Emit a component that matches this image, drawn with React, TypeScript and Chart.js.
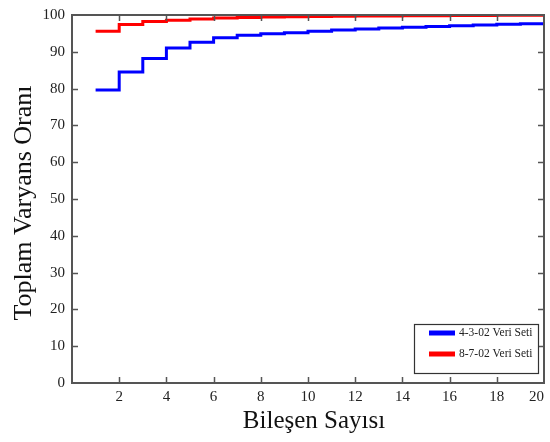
import React, { useEffect, useRef } from "react";
import { Chart, registerables } from "chart.js";

Chart.register(...registerables);

// ---- data ----
const components = [1, 2, 3, 4, 5, 6, 7, 8, 9, 10, 11, 12, 13, 14, 15, 16, 17, 18, 19, 20];
const set4302 = [79.6, 84.5, 88.2, 91.0, 92.6, 93.8, 94.5, 94.9, 95.2, 95.6, 95.9, 96.2, 96.5, 96.7, 96.9, 97.1, 97.3, 97.5, 97.6, 97.6];
const set8702 = [95.6, 97.4, 98.2, 98.6, 98.9, 99.2, 99.35, 99.45, 99.5, 99.6, 99.65, 99.7, 99.75, 99.8, 99.8, 99.85, 99.85, 99.9, 99.9, 99.95];
const seriesLabels = ["4-3-02 Veri Seti", "8-7-02 Veri Seti"];
const seriesColors = ["#0000ff", "#ff0000"];
const xTitle = "Bileşen Sayısı";
const yTitle = "Toplam Varyans Oranı";

const SERIF = "'Liberation Serif', 'Times New Roman', serif";

const framePlugin = {
  id: "frame",
  afterDatasetsDraw(chart: any) {
    const { ctx, chartArea, scales } = chart;
    const { left, right, top, bottom } = chartArea;
    const x = scales.x;
    const y = scales.y;
    ctx.save();
    ctx.strokeStyle = "#555555";
    ctx.lineWidth = 1.5;
    ctx.beginPath();
    const tl = 6;
    x.ticks.forEach((t: any) => {
      if (t.value <= x.min || t.value >= x.max) return;
      const px = Math.round(x.getPixelForValue(t.value)) + 0.5;
      ctx.moveTo(px, bottom);
      ctx.lineTo(px, bottom - tl);
      ctx.moveTo(px, top);
      ctx.lineTo(px, top + tl);
    });
    y.ticks.forEach((t: any) => {
      if (t.value <= y.min || t.value >= y.max) return;
      const py = Math.round(y.getPixelForValue(t.value)) + 0.5;
      ctx.moveTo(left, py);
      ctx.lineTo(left + tl, py);
      ctx.moveTo(right, py);
      ctx.lineTo(right - tl, py);
    });
    ctx.stroke();
    ctx.lineWidth = 2;
    ctx.strokeRect(left, top, right - left, bottom - top);
    ctx.restore();
  },
  afterDraw(chart: any) {
    const { ctx, chartArea } = chart;
    const { right, bottom } = chartArea;
    ctx.save();
    // axis titles
    ctx.fillStyle = "#111111";
    ctx.textAlign = "center";
    ctx.textBaseline = "middle";
    ctx.font = `25px ${SERIF}`;
    ctx.fillText(xTitle, 314, 421);
    ctx.font = `26px ${SERIF}`;
    ctx.translate(24, 203);
    ctx.rotate(-Math.PI / 2);
    ctx.fillText(yTitle, 0, 0);
    ctx.restore();

    // legend
    ctx.save();
    const bx = right - 130;
    const by = bottom - 59;
    const bw = 124;
    const bh = 49;
    ctx.fillStyle = "#ffffff";
    ctx.fillRect(bx, by, bw, bh);
    ctx.strokeStyle = "#333333";
    ctx.lineWidth = 1.2;
    ctx.strokeRect(bx + 0.5, by + 0.5, bw, bh);
    chart.data.datasets.forEach((ds: any, i: number) => {
      const cy = by + 9 + i * 21;
      ctx.strokeStyle = ds.borderColor;
      ctx.lineWidth = 5;
      ctx.beginPath();
      ctx.moveTo(bx + 15, cy);
      ctx.lineTo(bx + 41, cy);
      ctx.stroke();
      ctx.fillStyle = "#222222";
      ctx.font = `11.5px ${SERIF}`;
      ctx.textAlign = "left";
      ctx.textBaseline = "middle";
      ctx.fillText(ds.label, bx + 45, cy);
    });
    ctx.restore();
  },
};

export default function App() {
  const ref = useRef<HTMLCanvasElement | null>(null);

  useEffect(() => {
    if (!ref.current) return;
    const datasets = [set4302, set8702].map((vals, i) => ({
      label: seriesLabels[i],
      data: components.map((c, j) => ({ x: c, y: vals[j] })),
      borderColor: seriesColors[i],
      backgroundColor: seriesColors[i],
      borderWidth: 3,
      pointRadius: 0,
      stepped: "before" as const,
      fill: false,
    }));
    const chart = new Chart(ref.current, {
      type: "line",
      data: { datasets },
      options: {
        animation: false,
        responsive: false,
        maintainAspectRatio: false,
        devicePixelRatio: 1,
        layout: { padding: { left: 0, right: 6, top: 15, bottom: 0 } },
        plugins: {
          legend: { display: false },
          tooltip: { enabled: false },
        },
        scales: {
          x: {
            type: "linear",
            min: 0,
            max: 20,
            grid: { display: false, drawTicks: false },
            border: { display: false },
            ticks: {
              stepSize: 2,
              align: "inner",
              padding: 5,
              color: "#222222",
              font: { family: SERIF, size: 15 },
              callback: (v: any) => (v === 0 ? "" : String(v)),
            },
            afterFit: (s: any) => {
              s.height = 59;
              s.paddingLeft = 0;
              s.paddingRight = 0;
            },
          },
          y: {
            min: 0,
            max: 100,
            grid: { display: false, drawTicks: false },
            border: { display: false },
            ticks: {
              stepSize: 10,
              padding: 7,
              color: "#222222",
              font: { family: SERIF, size: 15 },
            },
            afterFit: (s: any) => {
              s.width = 72;
              s.paddingTop = 0;
              s.paddingBottom = 0;
            },
          },
        },
      },
      plugins: [framePlugin],
    });
    return () => chart.destroy();
  }, []);

  return (
    <div style={{ position: "fixed", left: 0, top: 0, width: 550, height: 442, background: "#ffffff" }}>
      <canvas ref={ref} width={550} height={442} style={{ display: "block" }} />
    </div>
  );
}
